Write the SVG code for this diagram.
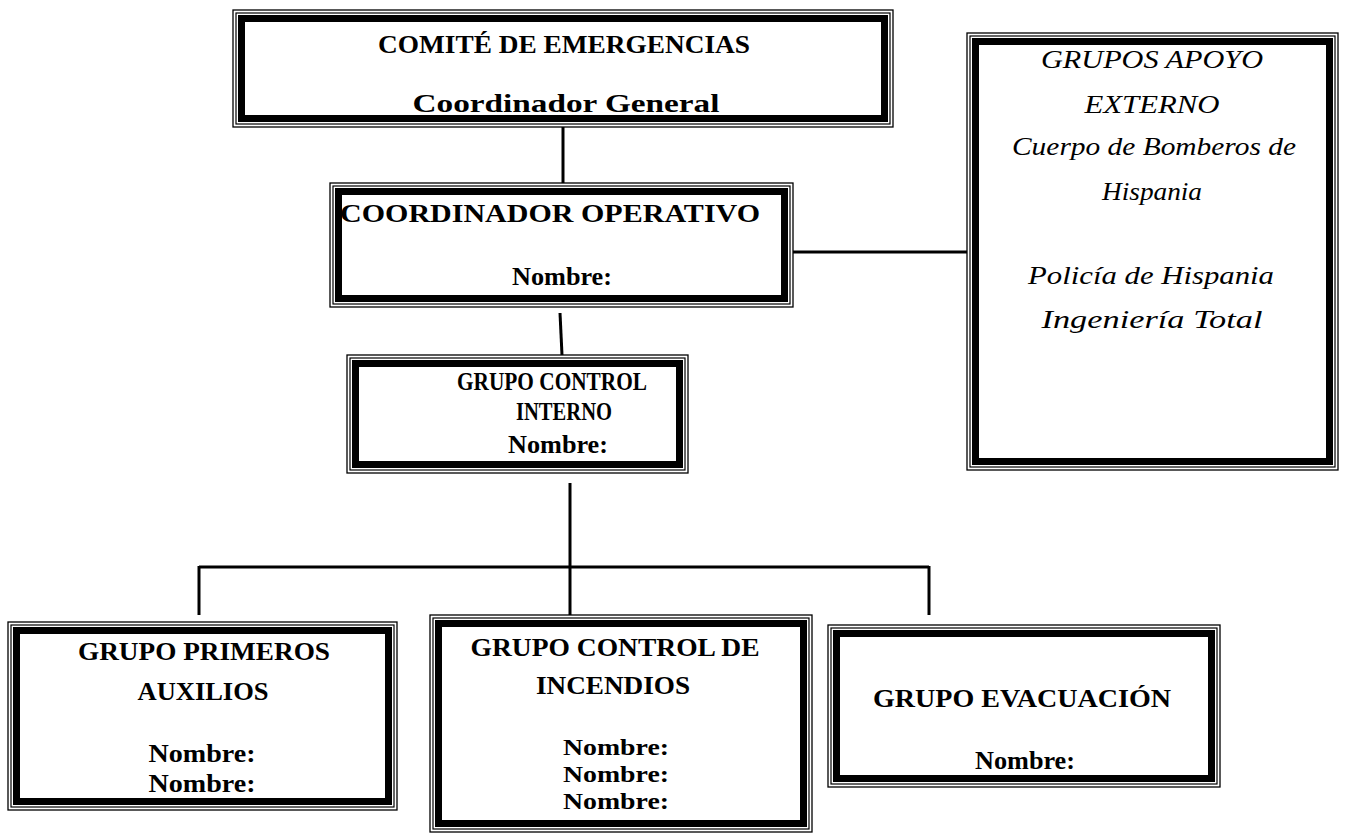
<svg xmlns="http://www.w3.org/2000/svg" width="1347" height="834" viewBox="0 0 1347 834">
<style>
.o{fill:#fff;stroke:#000;stroke-width:1.3}
.m{fill:none;stroke:#000;stroke-width:1.2}
.t{fill:none;stroke:#000;stroke-width:7}
.b{font-family:"Liberation Serif","DejaVu Serif",serif;font-weight:bold;font-size:26px;fill:#000;text-anchor:middle}
.n{font-size:24px}
.i{font-family:"Liberation Serif","DejaVu Serif",serif;font-style:italic;font-size:26px;fill:#000;text-anchor:middle}
.c{stroke:#000;stroke-width:3;fill:none}
</style>
<rect width="1347" height="834" fill="#fff"/>
<g id="connectors">
<line class="c" x1="563" y1="127" x2="563" y2="183"/>
<line class="c" x1="560" y1="313" x2="562" y2="355"/>
<line class="c" x1="793" y1="252" x2="967" y2="252"/>
<line class="c" x1="570" y1="483" x2="570" y2="615"/>
<line class="c" x1="199" y1="567" x2="929" y2="567"/>
<line class="c" x1="199" y1="566" x2="199" y2="615"/>
<line class="c" x1="929" y1="566" x2="929" y2="615"/>
</g>
<g id="comite">
<rect class="o" x="233" y="10" width="660" height="117"/>
<rect class="m" x="236" y="13" width="654" height="111"/>
<rect class="t" x="241.5" y="18.5" width="643" height="100"/>
<text class="b" x="564" y="53" textLength="372" lengthAdjust="spacingAndGlyphs">COMITÉ DE EMERGENCIAS</text>
<text class="b" x="566" y="112" textLength="307" lengthAdjust="spacingAndGlyphs">Coordinador General</text>
</g>
<g id="coordinador">
<rect class="o" x="330" y="183" width="463" height="124"/>
<rect class="m" x="333" y="186" width="457" height="118"/>
<rect class="t" x="338.5" y="191.5" width="446" height="107"/>
<text class="b" x="550" y="222" textLength="420" lengthAdjust="spacingAndGlyphs">COORDINADOR OPERATIVO</text>
<text class="b" x="562" y="285" textLength="100" lengthAdjust="spacingAndGlyphs">Nombre:</text>
</g>
<g id="control-interno">
<rect class="o" x="347" y="355" width="341" height="118"/>
<rect class="m" x="350" y="358" width="335" height="112"/>
<rect class="t" x="355.5" y="363.5" width="324" height="101"/>
<text class="b" x="552" y="390" textLength="190" lengthAdjust="spacingAndGlyphs">GRUPO CONTROL</text>
<text class="b" x="564" y="420" textLength="96" lengthAdjust="spacingAndGlyphs">INTERNO</text>
<text class="b" x="558" y="453" textLength="100" lengthAdjust="spacingAndGlyphs">Nombre:</text>
</g>
<g id="apoyo-externo">
<rect class="o" x="967" y="33" width="371" height="437"/>
<rect class="m" x="970" y="36" width="365" height="431"/>
<rect class="t" x="975.5" y="41.5" width="354" height="420"/>
<text class="i" x="1152" y="68" textLength="222" lengthAdjust="spacingAndGlyphs">GRUPOS APOYO</text>
<text class="i" x="1152" y="113" textLength="135" lengthAdjust="spacingAndGlyphs">EXTERNO</text>
<text class="i" x="1154" y="155" textLength="284" lengthAdjust="spacingAndGlyphs">Cuerpo de Bomberos de</text>
<text class="i" x="1152" y="200" textLength="100" lengthAdjust="spacingAndGlyphs">Hispania</text>
<text class="i" x="1151" y="284" textLength="246" lengthAdjust="spacingAndGlyphs">Policía de Hispania</text>
<text class="i" x="1152" y="328" textLength="221" lengthAdjust="spacingAndGlyphs">Ingeniería Total</text>
</g>
<g id="primeros-auxilios">
<rect class="o" x="8" y="622" width="389" height="188"/>
<rect class="m" x="11" y="625" width="383" height="182"/>
<rect class="t" x="16.5" y="630.5" width="372" height="171"/>
<text class="b" x="204" y="660" textLength="252" lengthAdjust="spacingAndGlyphs">GRUPO PRIMEROS</text>
<text class="b" x="203" y="700" textLength="131" lengthAdjust="spacingAndGlyphs">AUXILIOS</text>
<text class="b" x="202" y="762" textLength="107" lengthAdjust="spacingAndGlyphs">Nombre:</text>
<text class="b" x="202" y="792" textLength="107" lengthAdjust="spacingAndGlyphs">Nombre:</text>
</g>
<g id="control-incendios">
<rect class="o" x="430" y="615" width="382" height="217"/>
<rect class="m" x="433" y="618" width="376" height="211"/>
<rect class="t" x="438.5" y="623.5" width="365" height="200"/>
<text class="b" x="615" y="656" textLength="289" lengthAdjust="spacingAndGlyphs">GRUPO CONTROL DE</text>
<text class="b" x="613" y="694" textLength="154" lengthAdjust="spacingAndGlyphs">INCENDIOS</text>
<text class="b n" x="616" y="755" textLength="106" lengthAdjust="spacingAndGlyphs">Nombre:</text>
<text class="b n" x="616" y="782" textLength="106" lengthAdjust="spacingAndGlyphs">Nombre:</text>
<text class="b n" x="616" y="809" textLength="106" lengthAdjust="spacingAndGlyphs">Nombre:</text>
</g>
<g id="evacuacion">
<rect class="o" x="828" y="625" width="392" height="162"/>
<rect class="m" x="831" y="628" width="386" height="156"/>
<rect class="t" x="836.5" y="633.5" width="375" height="145"/>
<text class="b" x="1022" y="707" textLength="298" lengthAdjust="spacingAndGlyphs">GRUPO EVACUACIÓN</text>
<text class="b" x="1025" y="769" textLength="100" lengthAdjust="spacingAndGlyphs">Nombre:</text>
</g>
</svg>
